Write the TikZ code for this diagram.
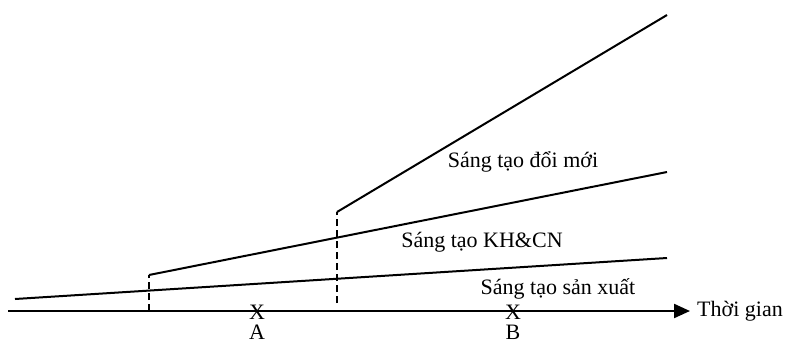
\documentclass[tikz,border=0pt]{standalone}
\usepackage{fontspec}
\setmainfont{Liberation Serif}
\usetikzlibrary{arrows.meta}
\begin{document}
\begin{tikzpicture}[x=1pt,y=-1pt,
  ln/.style={line width=2pt},
  dsh/.style={line width=1.8pt,dash pattern=on 7pt off 4pt},
  lbl/.style={font=\fontsize{22}{26}\selectfont,inner sep=0pt}]
\useasboundingbox (0,0) rectangle (785,341);
% axis
\coordinate (o) at (8,311);
\coordinate (t) at (690,311);
\draw[line width=2.2pt,-{Triangle[length=16pt,width=14pt]}] (o) -- (t);
\node[lbl,anchor=west] (time) at (697,311) {Thời gian};
% production line
\coordinate (p1) at (15,299);
\coordinate (p2) at (667,258);
\draw[ln] (p1) -- (p2);
% S&T line
\coordinate (k0) at (149,311);
\coordinate (k1) at (149,275);
\coordinate (k2) at (667,172);
\draw[dsh] (k0) -- (k1);
\draw[ln] (k1) -- (k2);
% innovation line
\coordinate (i0) at (337,303);
\coordinate (i1) at (337,212);
\coordinate (i2) at (667,15);
\draw[dsh] (i0) -- (i1);
\draw[ln] (i1) -- (i2);
% labels
\node[lbl] (dm) at (523,162) {Sáng tạo đổi mới};
\node[lbl] (kh) at (482,242) {Sáng tạo KH\&CN};
\node[lbl] (sx) at (558,289) {Sáng tạo sản xuất};
\node[lbl] (xa) at (257,312) {X};
\node[lbl] (a) at (257,332.5) {A};
\node[lbl] (xb) at (513,312) {X};
\node[lbl] (b) at (513,332.5) {B};
\end{tikzpicture}
\end{document}
